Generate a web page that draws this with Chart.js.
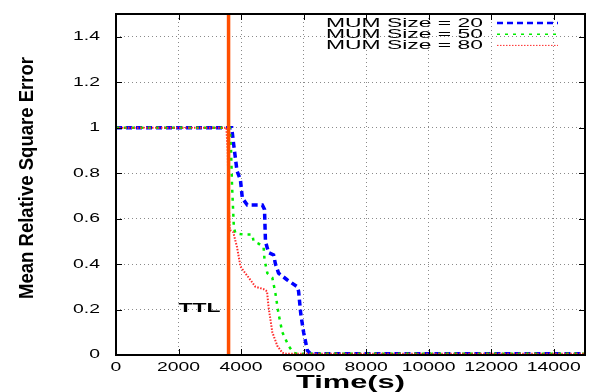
<!DOCTYPE html>
<html>
<head>
<meta charset="utf-8">
<script src="https://cdn.jsdelivr.net/npm/chart.js@4/dist/chart.umd.min.js"></script>
<style>
  html, body { margin: 0; padding: 0; background: #fff; }
  #wrap { width: 592px; height: 392px; }
</style>
</head>
<body>
<div id="wrap"><canvas id="chart" width="592" height="392"></canvas></div>
<script>
// values
const mum20X = [0, 3700, 3760, 3870, 3980, 4040, 4200, 4680, 4750, 4780, 4880, 5040, 5100, 5200, 5480, 5800, 5840, 5910, 6000, 6120, 6230, 15000];
const mum20Y = [1, 1, 0.93, 0.81, 0.77, 0.69, 0.66, 0.66, 0.64, 0.50, 0.45, 0.44, 0.40, 0.36, 0.33, 0.30, 0.28, 0.18, 0.10, 0.02, 0.005, 0.005];
const mum50X = [0, 3640, 3680, 3710, 3770, 3820, 4080, 4360, 4400, 4560, 4720, 4750, 4840, 5000, 5100, 5200, 5320, 5520, 5680, 5800, 15000];
const mum50Y = [1, 1, 0.90, 0.75, 0.56, 0.535, 0.53, 0.53, 0.50, 0.49, 0.475, 0.42, 0.36, 0.34, 0.27, 0.18, 0.10, 0.04, 0.01, 0.005, 0.005];
const mum80X = [0, 3530, 3570, 3600, 3640, 3750, 3870, 3980, 4080, 4300, 4460, 4720, 4830, 4880, 5000, 5160, 5320, 5450, 15000];
const mum80Y = [1, 1, 0.9, 0.7, 0.55, 0.54, 0.475, 0.39, 0.37, 0.33, 0.30, 0.29, 0.28, 0.21, 0.10, 0.04, 0.01, 0.005, 0.005];
const seriesNames = ["MUM Size = 20", "MUM Size = 50", "MUM Size = 80"];
const ttlTime = 3600;
const xTicks = [0, 2000, 4000, 6000, 8000, 10000, 12000, 14000];
const yTicks = [0, 0.2, 0.4, 0.6, 0.8, 1, 1.2, 1.4];

const FONT = "'Liberation Sans', Arial, sans-serif";
const STRETCH = 1.55; // the original bitmap was widened, so text is too

function pts(xs, ys) {
  return xs.map((x, i) => ({ x: x, y: ys[i] }));
}

// draw text squeezed or widened along x; fitW forces a width
function wideText(ctx, text, x, y, font, align, sx, fitW) {
  ctx.save();
  ctx.font = font;
  const w = ctx.measureText(text).width;
  const k = fitW ? fitW / w : sx;
  let left = x;
  if (align === "center") left = x - w * k / 2;
  if (align === "right") left = x - w * k;
  ctx.translate(left, y);
  ctx.scale(k, 1);
  ctx.textAlign = "left";
  ctx.textBaseline = "middle";
  ctx.fillText(text, 0, 0);
  ctx.restore();
}

// gnuplot style box, inward ticks, labels, TTL text and key
const frame = {
  id: "frame",
  afterDatasetsDraw(chart) {
    const { ctx, chartArea: a, scales: { x, y } } = chart;
    ctx.save();
    ctx.strokeStyle = "#000";
    ctx.lineWidth = 1;
    ctx.setLineDash([]);
    ctx.beginPath();
    xTicks.forEach(v => {
      const px = Math.round(x.getPixelForValue(v)) + 0.5;
      ctx.moveTo(px, a.bottom); ctx.lineTo(px, a.bottom - 6);
      ctx.moveTo(px, a.top); ctx.lineTo(px, a.top + 6);
    });
    yTicks.forEach(v => {
      const py = Math.round(y.getPixelForValue(v)) + 0.5;
      ctx.moveTo(a.left, py); ctx.lineTo(a.left + 6, py);
      ctx.moveTo(a.right, py); ctx.lineTo(a.right - 6, py);
    });
    ctx.stroke();
    ctx.lineWidth = 2;
    ctx.strokeRect(a.left, a.top, a.right - a.left, a.bottom - a.top);

    ctx.fillStyle = "#000";
    const tickFont = "12.5px " + FONT;
    xTicks.forEach(v => {
      wideText(ctx, String(v), x.getPixelForValue(v), a.bottom + 13, tickFont, "center", STRETCH);
    });
    yTicks.forEach(v => {
      wideText(ctx, String(Math.round(v * 10) / 10), a.left - 16, y.getPixelForValue(v), tickFont, "right", STRETCH);
    });

    // axis titles
    wideText(ctx, "Time(s)", (a.left + a.right) / 2, 383, "bold 18.5px " + FONT, "center", 0, 109);
    ctx.save();
    ctx.translate(27, 178);
    ctx.rotate(-Math.PI / 2);
    wideText(ctx, "Mean Relative Square Error", 0, 0, "bold 21px " + FONT, "center", 0, 242);
    ctx.restore();

    // TTL label
    wideText(ctx, "TTL", x.getPixelForValue(2000), y.getPixelForValue(0.205), "bold 13px " + FONT, "left", 0, 42);

    // key
    const ds = chart.data.datasets;
    for (let i = 0; i < 3; i++) {
      const ty = a.top + 9 + i * 11.2;
      ctx.fillStyle = "#000";
      wideText(ctx, seriesNames[i], a.left + 367, ty, "13px " + FONT, "right", 0, 157);
      ctx.strokeStyle = ds[i].borderColor;
      ctx.lineWidth = ds[i].borderWidth - 1;
      ctx.setLineDash(ds[i].borderDash);
      ctx.beginPath();
      ctx.moveTo(a.left + 381, ty);
      ctx.lineTo(a.left + 442, ty);
      ctx.stroke();
    }
    ctx.restore();
  }
};

const gridStyle = {
  color: "#8a8a8a",
  lineWidth: 1,
  drawTicks: false,
  drawOnChartArea: true
};

new Chart(document.getElementById("chart"), {
  type: "line",
  data: {
    datasets: [
      { label: seriesNames[0], data: pts(mum20X, mum20Y), borderColor: "#0000ff", borderWidth: 3.5, borderDash: [6, 4], pointRadius: 0, tension: 0, order: 3 },
      { label: seriesNames[1], data: pts(mum50X, mum50Y), borderColor: "#00ee00", borderWidth: 2.5, borderDash: [3, 5], pointRadius: 0, tension: 0, order: 2 },
      { label: seriesNames[2], data: pts(mum80X, mum80Y), borderColor: "#ff2a2a", borderWidth: 2, borderDash: [1.5, 1.5], pointRadius: 0, tension: 0, order: 1 },
      { label: "TTL", data: [{ x: ttlTime, y: 0 }, { x: ttlTime, y: 1.5 }], borderColor: "#ff4e00", borderWidth: 3.5, borderDash: [], pointRadius: 0, order: 0 }
    ]
  },
  options: {
    responsive: false,
    animation: false,
    layout: { padding: { top: 14, right: 7, left: 0, bottom: 0 } },
    plugins: { legend: { display: false }, tooltip: { enabled: false } },
    scales: {
      x: {
        type: "linear",
        min: 0, max: 15000,
        afterBuildTicks: s => { s.ticks = xTicks.map(v => ({ value: v })); },
        afterFit: s => { s.height = 37; },
        border: { display: false, dash: [1, 3] },
        grid: gridStyle,
        ticks: { display: false }
      },
      y: {
        type: "linear",
        min: 0, max: 1.5,
        afterBuildTicks: s => { s.ticks = yTicks.map(v => ({ value: v })); },
        afterFit: s => { s.width = 116; },
        border: { display: false, dash: [1, 3] },
        grid: gridStyle,
        ticks: { display: false }
      }
    }
  },
  plugins: [frame]
});
</script>
</body>
</html>
